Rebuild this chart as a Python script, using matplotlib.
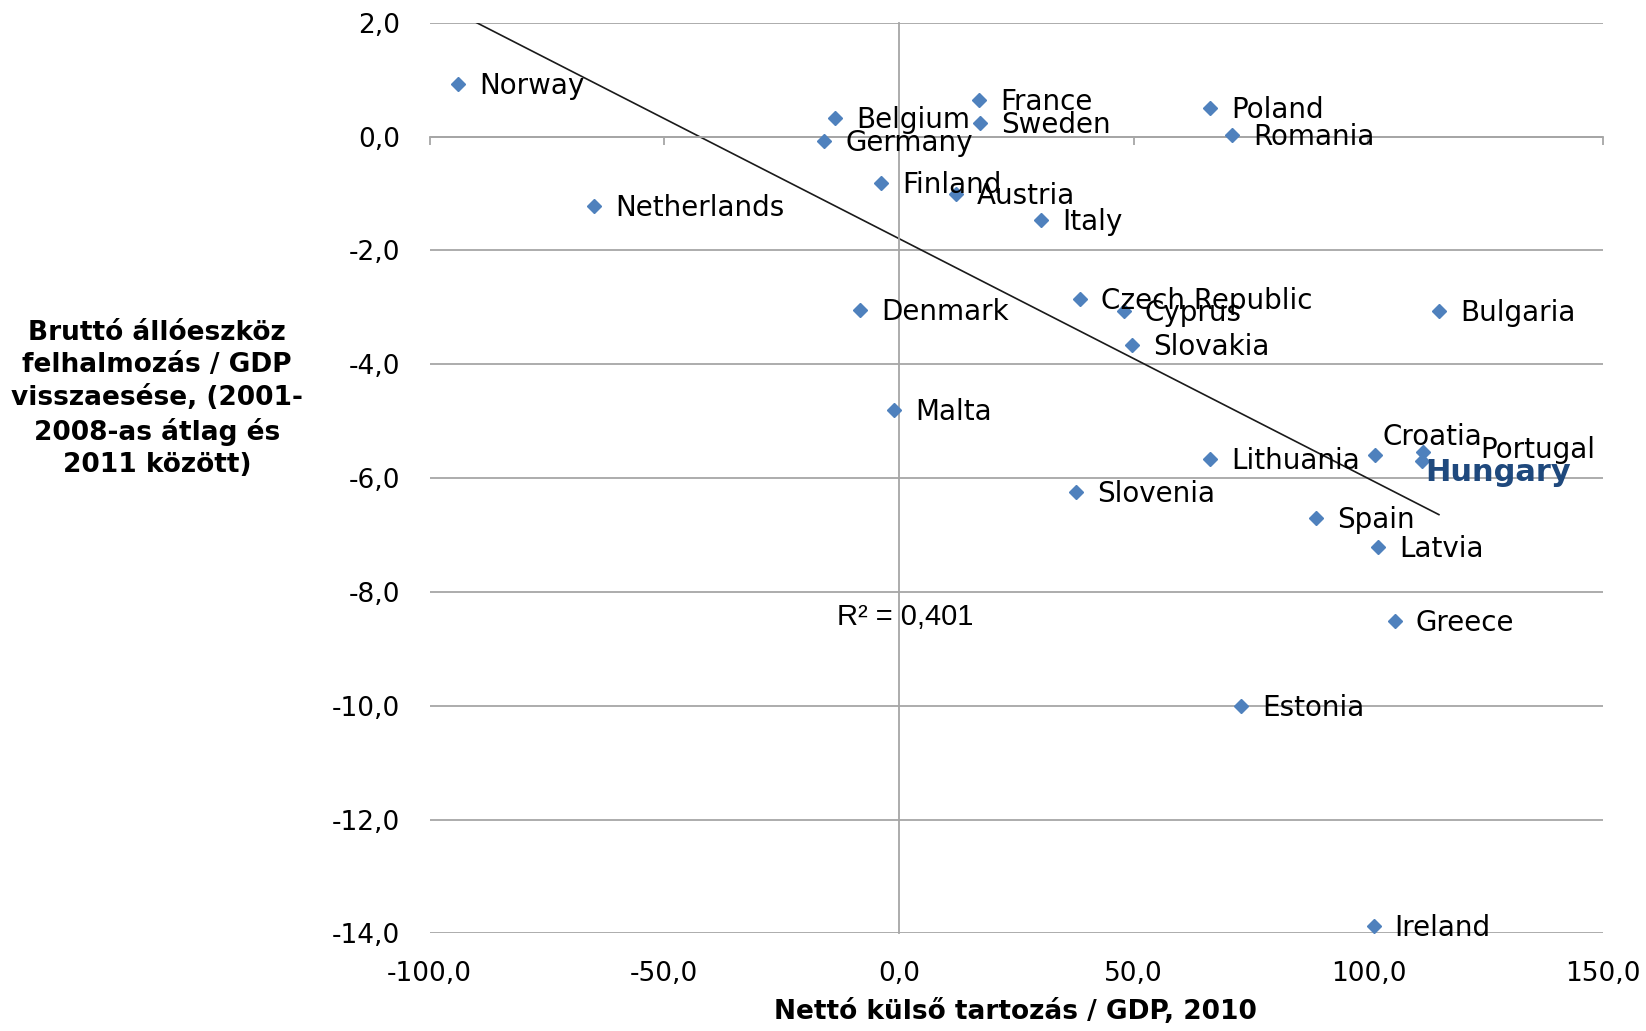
import numpy as np
import matplotlib
matplotlib.use('Agg')
import matplotlib.pyplot as plt

# 数据
countries = ['Norway', 'Belgium', 'Germany', 'France', 'Sweden', 'Poland', 'Romania',
             'Finland', 'Austria', 'Netherlands', 'Italy', 'Czech Republic', 'Cyprus',
             'Denmark', 'Bulgaria', 'Slovakia', 'Malta', 'Croatia', 'Portugal', 'Hungary',
             'Lithuania', 'Slovenia', 'Spain', 'Latvia', 'Greece', 'Estonia', 'Ireland']
net_debt = [-94.0, -13.6, -15.9, 17.0, 17.2, 66.2, 70.9,
            -3.8, 12.1, -64.9, 30.2, 38.5, 47.9,
            -8.3, 115.0, 49.7, -1.1, 101.3, 111.6, 111.4,
            66.2, 37.8, 88.8, 102.0, 105.6, 72.9, 101.1]
gfcf_drop = [0.92, 0.33, -0.07, 0.65, 0.24, 0.50, 0.02,
             -0.81, -1.01, -1.22, -1.46, -2.86, -3.06,
             -3.04, -3.06, -3.67, -4.80, -5.59, -5.55, -5.70,
             -5.66, -6.24, -6.70, -7.21, -8.51, -10.0, -13.87]
x_ticks = [-100, -50, 0, 50, 100, 150]
y_ticks = [2, 0, -2, -4, -6, -8, -10, -12, -14]
r2_text = 'R² = 0,401'

x = np.array(net_debt)
y = np.array(gfcf_drop)

fig = plt.figure(figsize=(16.46, 10.31), dpi=100)
ax = fig.add_axes([0.261, 0.0947, 0.713, 0.8833])

grid_col = '#a6a6a6'
ax.set_xlim(-100, 150)
ax.set_ylim(-14, 2)

# 水平网格线
ax.set_yticks(y_ticks)
ax.set_xticks(x_ticks)
ax.grid(True, axis='y', color=grid_col, linewidth=1.3)
ax.set_axisbelow(True)

# 坐标轴穿过原点
for s in ['top', 'right']:
    ax.spines[s].set_visible(False)
ax.spines['bottom'].set_position(('data', 0))
ax.spines['left'].set_position(('data', 0))
ax.spines['bottom'].set_color(grid_col)
ax.spines['left'].set_color(grid_col)
ax.spines['bottom'].set_linewidth(1.3)
ax.spines['left'].set_linewidth(1.3)
ax.tick_params(axis='x', direction='out', length=6, color=grid_col, width=1.3,
               labelbottom=False)
ax.tick_params(axis='y', length=0, labelleft=False)

# 刻度标签放在外侧
fmt = lambda v: f'{v:.1f}'.replace('.', ',')
secx = ax.secondary_xaxis(0)
secx.set_xticks(x_ticks, labels=[fmt(v) for v in x_ticks])
secx.tick_params(length=0, pad=20, labelsize=19)
secx.spines['bottom'].set_visible(False)
secy = ax.secondary_yaxis(0)
secy.set_yticks(y_ticks, labels=[fmt(v) for v in y_ticks])
secy.tick_params(length=0, pad=21, labelsize=19)
secy.spines['left'].set_visible(False)

# 趋势线
k, b = np.polyfit(x, y, 1)
xs = np.array([x.min(), x.max()])
ax.plot(xs, k * xs + b, color='#1a1a1a', linewidth=1.2, zorder=2)

# 散点
ax.plot(x, y, linestyle='none', marker='D', markersize=7.5, color='#4f81bd', zorder=3)

# 标签
special = {
    'Croatia': dict(offset=(8, 18)),
    'Portugal': dict(offset=(57, 2)),
    'Hungary': dict(offset=(3, -12), color='#1f497d', weight='bold', size=22),
}
for name, xi, yi in zip(countries, x, y):
    opt = special.get(name, {})
    ax.annotate(name, (xi, yi), xytext=opt.get('offset', (21, -2)),
                textcoords='offset pixels', va='center', ha='left',
                fontsize=opt.get('size', 20), color=opt.get('color', 'black'),
                fontweight=opt.get('weight', 'normal'), zorder=4)

ax.text(-13.2, -8.45, r2_text, fontsize=21, family='Liberation Sans',
        va='center', ha='left')

# 轴标题
fig.text(0.617, 0.018, 'Nettó külső tartozás / GDP, 2010', ha='center', va='center',
         fontsize=19, fontweight='bold')
fig.text(0.0954, 0.613,
         'Bruttó állóeszköz\nfelhalmozás / GDP\nvisszaesése, (2001-\n2008-as átlag és\n2011 között)',
         ha='center', va='center', fontsize=19, fontweight='bold', linespacing=1.32)

fig.savefig('out.png', dpi=100)
